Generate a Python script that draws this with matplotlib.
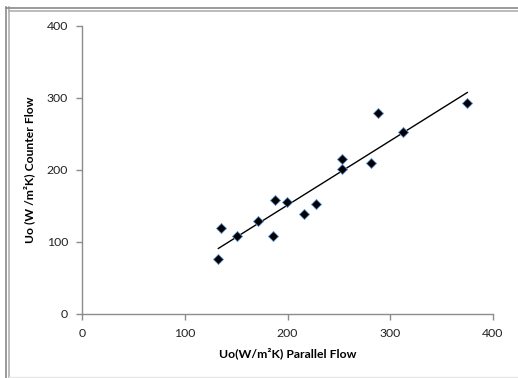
import numpy as np
import matplotlib
matplotlib.use("Agg")
import matplotlib.pyplot as plt
from matplotlib.lines import Line2D

# Data
parallel_flow = [132.7, 135.0, 150.6, 171.3, 186.2, 187.5, 199.5, 216.1,
                 227.7, 253.3, 253.3, 281.3, 288.1, 312.1, 375.0]
counter_flow = [76.2, 119.9, 108.7, 128.6, 107.7, 158.9, 155.1, 139.0,
                153.3, 215.0, 201.7, 210.0, 278.7, 252.7, 293.1]
x_ticks = [0, 100, 200, 300, 400]
y_ticks = [0, 100, 200, 300, 400]
x_title = "Uo(W/m²K) Parallel Flow"
y_title = "Uo (W /m²K) Counter Flow"

plt.rcParams['font.family'] = ['Lato', 'DejaVu Sans']

fig = plt.figure(figsize=(5.18, 3.78), dpi=100)
ax = fig.add_axes([82/518, 1-314/378, (493-82)/518, (314-26)/378])

x = np.array(parallel_flow)
y = np.array(counter_flow)
slope, intercept = np.polyfit(x, y, 1)
xl = np.array([x.min(), x.max()])
ax.plot(xl, slope*xl + intercept, color='black', lw=1.0, zorder=2)
ax.plot(x, y, linestyle='none', marker='D', ms=5.5, mfc='black',
        mec='#5b8fd0', mew=0.6, zorder=3)

ax.set_xlim(0, 400)
ax.set_ylim(0, 400)
ax.set_xticks(x_ticks)
ax.set_yticks(y_ticks)
for s in ['top', 'right']:
    ax.spines[s].set_visible(False)
for s in ['left', 'bottom']:
    ax.spines[s].set_color('#8c8c8c')
    ax.spines[s].set_linewidth(1.0)
ax.tick_params(axis='both', direction='out', length=4, width=1.0,
               color='#8c8c8c', labelsize=8.8, labelcolor='#222222', pad=6)
ax.set_xlabel(x_title, fontsize=8.8, fontweight='bold', labelpad=6)
ax.set_ylabel(y_title, fontsize=8.7, fontweight='bold', labelpad=8)

# outer frame (double line at left and top, faint at bottom)
for xx, c in [(5.5, '#8a8a8a'), (8.5, '#b0b0b0')]:
    fig.add_artist(Line2D([xx/518, xx/518], [0, 1-7/378], color=c, lw=1.2,
                          transform=fig.transFigure))
for yy, c in [(7.5, '#8a8a8a'), (10.5, '#b0b0b0')]:
    x0 = 5.5 if yy == 7.5 else 8.5
    fig.add_artist(Line2D([x0/518, 1], [1-yy/378, 1-yy/378], color=c, lw=1.2,
                          transform=fig.transFigure))
fig.add_artist(Line2D([8.5/518, 1], [1/378, 1/378], color='#e6e6e6', lw=1.0,
                      transform=fig.transFigure))

fig.savefig("out.png", dpi=100)
